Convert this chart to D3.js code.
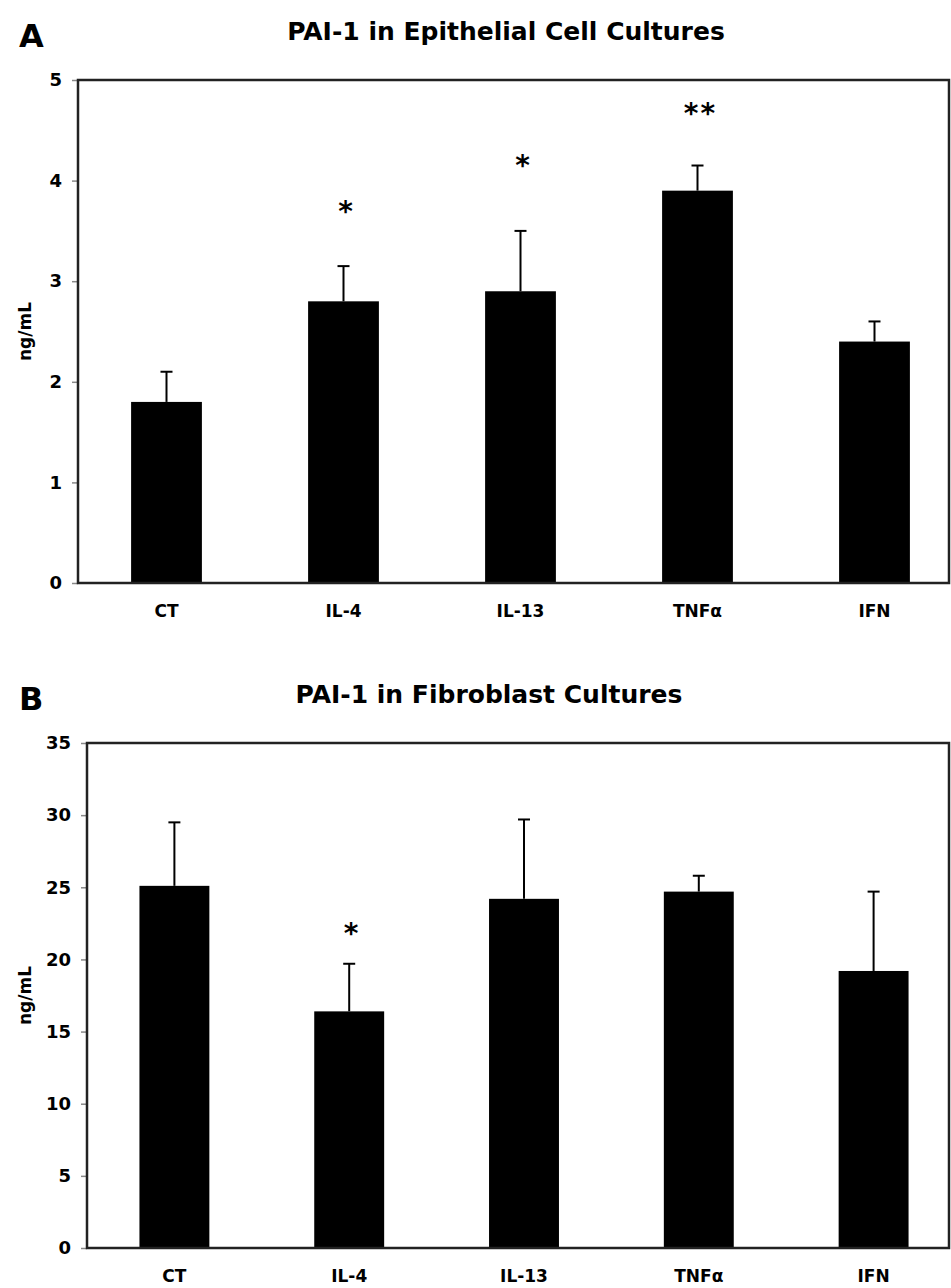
<!DOCTYPE html>
<html lang="en">

<head>
  <meta charset="utf-8">
  <title>PAI-1 in Cell Cultures</title>
  <style>
    body {
      margin: 0;
      background: #fff;
    }

    svg text {
      font-family: "DejaVu Sans", Verdana, sans-serif;
      font-weight: bold;
      fill: #000;
    }
  </style>
</head>

<body>
  <div id="chart"></div>
</body>
<script src="https://d3js.org/d3.v7.min.js"></script>

<script>
  var categories = ["CT", "IL-4", "IL-13", "TNFα", "IFN"];

  // panel A, epithelial cells
  var epiMeans = [1.8, 2.8, 2.9, 3.9, 2.4];
  var epiErrors = [0.3, 0.35, 0.6, 0.25, 0.2];
  var epiStars = ["", "*", "*", "**", ""];
  var epiStarAt = [0, 3.75, 4.2, 4.72, 0];
  var epiTicks = [0, 1, 2, 3, 4, 5];

  // panel B, fibroblasts
  var fibMeans = [25.1, 16.4, 24.2, 24.7, 19.2];
  var fibErrors = [4.4, 3.3, 5.5, 1.1, 5.5];
  var fibStars = ["", "*", "", "", ""];
  var fibStarAt = [0, 22.2, 0, 0, 0];
  var fibTicks = [0, 5, 10, 15, 20, 25, 30, 35];

  var svg = d3.select("#chart")
    .append("svg")
    .attr("width", 951)
    .attr("height", 1288);

  function drawPanel(p) {
    var g = svg.append("g");

    var x = d3.scaleBand()
      .domain(categories)
      .range([p.left, p.bandRight])
      .paddingInner(0.6)
      .paddingOuter(0.3);

    var y = d3.scaleLinear()
      .domain([0, d3.max(p.ticks)])
      .range([p.bottom, p.top]);

    var rows = categories.map(function (c, i) {
      return { cat: c, mean: p.means[i], err: p.errors[i], star: p.stars[i], starAt: p.starAt[i] };
    });

    // panel letter and title
    g.append("text")
      .attr("x", 19)
      .attr("y", p.top - 33)
      .style("font-size", "32px")
      .text(p.letter);

    g.append("text")
      .attr("x", p.titleX)
      .attr("y", p.top - 40)
      .attr("text-anchor", "middle")
      .style("font-size", "25px")
      .text(p.title);

    // bars
    g.selectAll("rect.bar")
      .data(rows)
      .enter()
      .append("rect")
      .attr("class", "bar")
      .attr("x", function (d) { return x(d.cat); })
      .attr("y", function (d) { return y(d.mean); })
      .attr("width", x.bandwidth())
      .attr("height", function (d) { return y(0) - y(d.mean); })
      .attr("fill", "#000");

    // error bars (upper only)
    var eb = g.selectAll("g.err")
      .data(rows)
      .enter()
      .append("g")
      .attr("class", "err")
      .attr("stroke", "#000")
      .attr("stroke-width", 2);

    eb.append("line")
      .attr("x1", function (d) { return x(d.cat) + x.bandwidth() / 2; })
      .attr("x2", function (d) { return x(d.cat) + x.bandwidth() / 2; })
      .attr("y1", function (d) { return y(d.mean); })
      .attr("y2", function (d) { return y(d.mean + d.err); });

    eb.append("line")
      .attr("x1", function (d) { return x(d.cat) + x.bandwidth() / 2 - 6; })
      .attr("x2", function (d) { return x(d.cat) + x.bandwidth() / 2 + 6; })
      .attr("y1", function (d) { return y(d.mean + d.err); })
      .attr("y2", function (d) { return y(d.mean + d.err); });

    // significance stars
    g.selectAll("text.star")
      .data(rows.filter(function (d) { return d.star; }))
      .enter()
      .append("text")
      .attr("class", "star")
      .attr("x", function (d) { return x(d.cat) + x.bandwidth() / 2 + 3; })
      .attr("y", function (d) { return y(d.starAt) + 15; })
      .attr("text-anchor", "middle")
      .style("font-size", "28px")
      .style("letter-spacing", "2px")
      .text(function (d) { return d.star; });

    // y axis
    var yAxis = g.append("g")
      .attr("transform", "translate(" + p.left + ",0)")
      .call(d3.axisLeft(y).tickValues(p.ticks).tickFormat(d3.format("d")).tickSize(6).tickPadding(10));
    yAxis.select(".domain").remove();
    yAxis.selectAll(".tick line").attr("stroke", "#888").attr("stroke-width", 1.5);
    yAxis.selectAll(".tick text").style("font-size", "18px").style("font-family", "DejaVu Sans, sans-serif");

    // x axis labels
    var xAxis = g.append("g")
      .attr("transform", "translate(0," + p.bottom + ")")
      .call(d3.axisBottom(x).tickSize(0).tickPadding(22));
    xAxis.select(".domain").remove();
    xAxis.selectAll(".tick text").style("font-size", "17px").style("font-family", "DejaVu Sans, sans-serif");

    // plot frame
    g.append("rect")
      .attr("x", p.left)
      .attr("y", p.top)
      .attr("width", p.frameRight - p.left)
      .attr("height", p.bottom - p.top)
      .attr("fill", "none")
      .attr("stroke", "#222")
      .attr("stroke-width", 2.5);

    // y axis title
    g.append("text")
      .attr("transform", "translate(31," + ((p.top + p.bottom) / 2) + ") rotate(-90)")
      .attr("text-anchor", "middle")
      .style("font-size", "17px")
      .text("ng/mL");
  }

  drawPanel({
    letter: "A", title: "PAI-1 in Epithelial Cell Cultures", titleX: 506,
    means: epiMeans, errors: epiErrors, stars: epiStars, starAt: epiStarAt, ticks: epiTicks,
    left: 78, bandRight: 963, frameRight: 949, top: 80, bottom: 583
  });

  drawPanel({
    letter: "B", title: "PAI-1 in Fibroblast Cultures", titleX: 489,
    means: fibMeans, errors: fibErrors, stars: fibStars, starAt: fibStarAt, ticks: fibTicks,
    left: 87, bandRight: 961, frameRight: 949, top: 743, bottom: 1248
  });
</script>

</html>
